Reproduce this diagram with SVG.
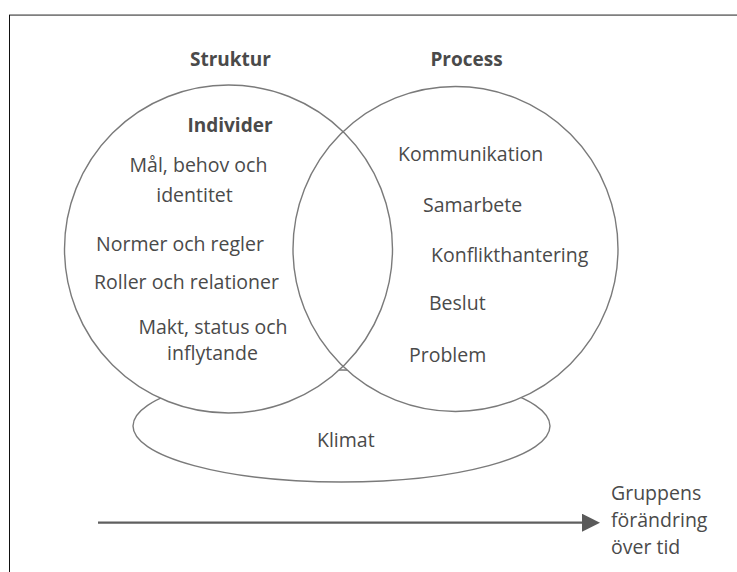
<svg xmlns="http://www.w3.org/2000/svg" width="737" height="572" viewBox="0 0 737 572">
  <style>
    .lbl { font-family: "Open Sans", "Liberation Sans", sans-serif; font-size: 19.5px; fill: #4a4a4a; }
    .hdr { font-family: "Open Sans", "Liberation Sans", sans-serif; font-size: 19px; font-weight: bold; fill: #4a4a4a; }
    .ring { fill: none; stroke: #7a7a7a; stroke-width: 1.4; }
    .bg { fill: #ffffff; stroke: none; }
  </style>
  <defs>
    <marker id="arrowhead" markerWidth="18" markerHeight="18" refX="0" refY="9" orient="auto" markerUnits="userSpaceOnUse">
      <path d="M0,0 L18,9 L0,18 Z" fill="#5a5a5a"/>
    </marker>
  </defs>

  <rect x="0" y="0" width="737" height="572" fill="#ffffff"/>

  <!-- frame -->
  <line x1="9" y1="15.2" x2="737" y2="15.2" stroke="#7f7f7f" stroke-width="1.8"/>
  <line x1="9.5" y1="15" x2="9.5" y2="572" stroke="#111111" stroke-width="1"/>

  <!-- climate ellipse sits behind both circles -->
  <g id="klimat">
    <ellipse class="ring" cx="341.5" cy="426" rx="208.5" ry="56" fill="#ffffff"/>
    <text class="lbl" x="317" y="446.5">Klimat</text>
  </g>

  <!-- white discs hide the ellipse's upper arc -->
  <circle class="bg" cx="228.5" cy="249" r="164"/>
  <circle class="bg" cx="455.5" cy="249" r="162.5"/>

  <g id="struktur">
    <circle class="ring" cx="228.5" cy="249" r="164"/>
    <text class="hdr" x="230.5" y="66" text-anchor="middle">Struktur</text>
    <text class="hdr" x="230" y="131.5" text-anchor="middle">Individer</text>
    <text class="lbl" x="198.5" y="171.5" text-anchor="middle">Mål, behov och</text>
    <text class="lbl" x="194.5" y="201.5" text-anchor="middle">identitet</text>
    <text class="lbl" x="180" y="251" text-anchor="middle">Normer och regler</text>
    <text class="lbl" x="186.5" y="288.5" text-anchor="middle">Roller och relationer</text>
    <text class="lbl" x="213" y="333.5" text-anchor="middle">Makt, status och</text>
    <text class="lbl" x="212.5" y="360" text-anchor="middle">inflytande</text>
  </g>

  <g id="process">
    <circle class="ring" cx="455.5" cy="249" r="162.5"/>
    <text class="hdr" x="466.5" y="66" text-anchor="middle">Process</text>
    <text class="lbl" x="398" y="161">Kommunikation</text>
    <text class="lbl" x="423" y="211.5">Samarbete</text>
    <text class="lbl" x="431" y="261.5">Konflikthantering</text>
    <text class="lbl" x="429" y="310">Beslut</text>
    <text class="lbl" x="409" y="361.5">Problem</text>
  </g>

  <g id="tid">
    <text class="lbl" x="611" y="500" font-size="20">Gruppens</text>
    <text class="lbl" x="611" y="527" font-size="20">förändring</text>
    <text class="lbl" x="611" y="553.5" font-size="20">över tid</text>
  </g>

  <g id="connectors">
    <line x1="98" y1="522.7" x2="582" y2="522.7" stroke="#5f5f5f" stroke-width="2.2" marker-end="url(#arrowhead)"/>
  </g>
</svg>
